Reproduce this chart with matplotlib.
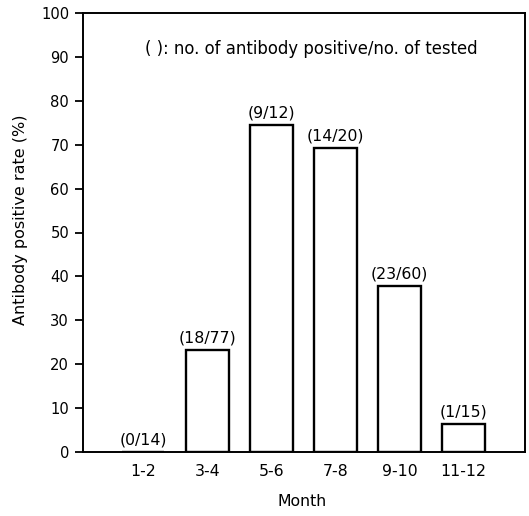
import matplotlib
matplotlib.use("Agg")
import matplotlib.pyplot as plt
import numpy as np

months = ["1-2", "3-4", "5-6", "7-8", "9-10", "11-12"]
rates = [0.0, 23.2, 74.6, 69.3, 37.8, 6.3]
counts = ["(0/14)", "(18/77)", "(9/12)", "(14/20)", "(23/60)", "(1/15)"]
yticks = list(range(0, 101, 10))

plt.rcParams['font.family'] = ['DejaVu Sans']

fig = plt.figure(figsize=(5.29, 5.16), dpi=100)
ax = fig.add_axes([83/529, 1-452/516, (525-83)/529, (452-13)/516])

x = np.arange(len(months))
ax.bar(x, rates, width=0.67, facecolor='white', edgecolor='black', linewidth=1.7)
for xi, r, c in zip(x, rates, counts):
    ax.text(xi, r + 1.0, c, ha='center', va='bottom', fontsize=11.3)

ax.set_xlim(-0.936, 5.96)
ax.set_ylim(0, 100)
ax.set_yticks(yticks)
ax.set_xticks(x)
ax.set_xticklabels(months)
ax.tick_params(axis='x', length=0, pad=9, labelsize=11.3)
ax.tick_params(axis='y', length=6, width=1.3, direction='out', labelsize=10.6, pad=4)
for s in ax.spines.values():
    s.set_linewidth(1.4)
ax.set_ylabel("Antibody positive rate (%)", fontsize=11.5)
ax.yaxis.set_label_coords(-0.125, 0.53)
ax.set_xlabel("Month", fontsize=11.3)
ax.xaxis.set_label_coords(0.495, -0.095)
ax.text(0.140, 0.918, "( ): no. of antibody positive/no. of tested", transform=ax.transAxes,
        ha='left', va='center', fontsize=11.9)

fig.savefig("out.png", dpi=100)
